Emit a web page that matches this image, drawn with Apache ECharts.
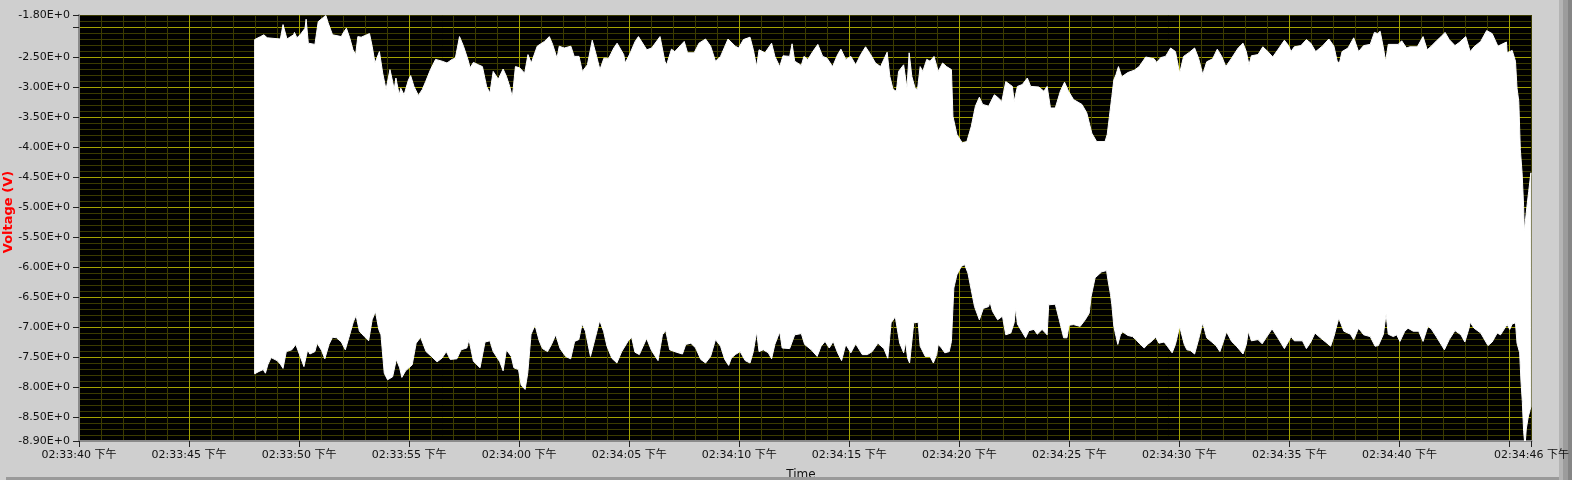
<!DOCTYPE html>
<html><head><meta charset="utf-8">
<script src="https://cdn.jsdelivr.net/npm/echarts@6/dist/echarts.min.js"></script>
<style>html,body{margin:0;padding:0;background:#cfcfcf;}#c{width:1572px;height:480px;}</style>
</head><body><div id="c"></div>
<script>
// seconds after 02:33:40 PM
const upperT = [7.98,8.25,8.40,8.55,9.15,9.27,9.45,9.75,9.79,9.90,10.05,10.27,10.32,10.42,10.72,10.87,11.17,11.22,11.32,11.52,11.92,12.00,12.15,12.30,12.45,12.57,12.67,12.82,13.20,13.32,13.45,13.65,13.80,13.95,14.13,14.25,14.32,14.40,14.55,14.62,14.77,14.97,15.07,15.22,15.42,15.60,15.75,15.97,16.20,16.50,16.72,16.95,17.10,17.29,17.47,17.67,17.77,17.92,18.15,18.33,18.52,18.67,18.82,19.05,19.27,19.42,19.57,19.69,19.83,20.02,20.25,20.40,20.55,20.82,21.15,21.37,21.52,21.72,21.82,22.05,22.35,22.50,22.72,22.87,23.10,23.32,23.52,23.67,23.85,24.07,24.30,24.45,24.75,24.82,25.05,25.27,25.42,25.80,26.02,26.40,26.62,26.70,26.92,27.07,
27.50,27.65,27.95,28.17,28.47,28.70,28.92,29.15,29.49,29.82,29.97,30.19,30.49,30.64,30.79,30.90,31.17,31.47,31.62,31.84,31.99,32.29,32.40,32.52,32.82,32.94,33.12,33.34,33.57,33.79,33.99,34.24,34.47,34.62,34.84,35.07,35.29,35.52,35.74,35.97,36.19,36.42,36.72,36.84,36.99,37.14,37.24,37.47,37.62,37.72,37.84,37.99,38.10,38.22,38.34,38.52,38.67,38.85,39.04,39.24,39.42,39.64,39.71,39.89,40.13,40.34,40.54,40.73,40.91,41.06,41.33,41.59,41.74,41.93,42.11,42.41,42.49,42.64,42.86,43.09,43.24,43.61,43.84,43.99,44.14,44.36,44.59,44.78,44.96,45.19,45.57,45.79,46.02,46.24,46.62,
46.72,46.82,46.93,47.02,47.12,47.23,47.38,47.65,47.95,48.17,48.47,48.85,48.97,49.15,49.37,49.60,49.82,50.01,50.19,50.46,50.69,50.87,51.06,51.24,51.51,51.72,51.92,52.11,52.37,52.67,52.89,53.04,53.16,53.27,53.57,53.79,54.02,54.24,54.47,54.77,54.96,55.07,55.22,55.52,55.77,55.97,56.19,56.49,56.79,57.02,57.17,57.27,57.39,57.66,57.92,58.14,58.37,58.67,58.86,59.01,59.12,59.27,59.37,59.49,59.94,60.10,60.32,60.47,60.81,61.07,61.26,61.44,61.71,61.89,62.07,62.26,62.52,62.71,63.01,63.21,63.39,63.69,63.96,64.21,64.47,64.86,64.89,65.12,65.27,65.34,65.42,65.49,65.57,65.64,65.67,65.79,65.87,65.97];
const upperV = [-2.21,-2.16,-2.13,-2.18,-2.20,-1.96,-2.20,-2.13,-2.09,-2.18,-2.13,-2.02,-1.87,-2.27,-2.29,-1.91,-1.82,-1.81,-1.93,-2.13,-2.16,-2.10,-2.02,-2.18,-2.38,-2.46,-2.16,-2.17,-2.11,-2.32,-2.60,-2.41,-2.77,-3.04,-2.71,-2.91,-3.04,-2.85,-3.13,-3.02,-3.13,-2.88,-2.81,-2.99,-3.14,-3.04,-2.91,-2.71,-2.54,-2.57,-2.60,-2.54,-2.52,-2.16,-2.32,-2.54,-2.68,-2.59,-2.63,-2.66,-2.99,-3.10,-2.74,-2.87,-2.70,-2.82,-2.99,-3.17,-2.66,-2.68,-2.77,-2.46,-2.60,-2.32,-2.24,-2.16,-2.29,-2.52,-2.32,-2.35,-2.32,-2.49,-2.49,-2.74,-2.63,-2.22,-2.49,-2.71,-2.52,-2.52,-2.35,-2.27,-2.46,-2.60,-2.43,-2.24,-2.16,-2.38,-2.35,-2.16,-2.57,-2.63,-2.37,-2.41,
-2.24,-2.43,-2.43,-2.27,-2.20,-2.32,-2.57,-2.49,-2.20,-2.32,-2.35,-2.21,-2.17,-2.38,-2.66,-2.38,-2.43,-2.27,-2.49,-2.66,-2.48,-2.49,-2.28,-2.57,-2.64,-2.49,-2.54,-2.41,-2.29,-2.49,-2.52,-2.66,-2.46,-2.37,-2.54,-2.49,-2.63,-2.46,-2.33,-2.46,-2.60,-2.66,-2.42,-2.82,-3.04,-3.07,-2.74,-2.63,-3.02,-2.43,-2.82,-3.02,-3.04,-2.66,-2.74,-2.54,-2.57,-2.49,-2.74,-2.60,-2.66,-2.71,-3.49,-3.79,-3.93,-3.91,-3.66,-3.32,-3.17,-3.29,-3.32,-3.13,-3.17,-3.24,-2.91,-2.99,-3.24,-2.99,-2.96,-2.85,-2.99,-3.00,-3.07,-2.99,-3.35,-3.35,-3.07,-2.92,-3.07,-3.21,-3.29,-3.43,-3.77,-3.91,-3.91,
-3.79,-3.49,-3.16,-2.88,-2.79,-2.66,-2.83,-2.76,-2.72,-2.66,-2.50,-2.53,-2.59,-2.51,-2.49,-2.35,-2.41,-2.77,-2.49,-2.42,-2.35,-2.52,-2.79,-2.58,-2.53,-2.37,-2.49,-2.66,-2.52,-2.35,-2.27,-2.41,-2.63,-2.48,-2.46,-2.33,-2.41,-2.50,-2.38,-2.22,-2.31,-2.41,-2.33,-2.31,-2.21,-2.27,-2.41,-2.32,-2.20,-2.32,-2.57,-2.60,-2.41,-2.35,-2.18,-2.41,-2.31,-2.29,-2.09,-2.11,-2.07,-2.35,-2.57,-2.29,-2.29,-2.23,-2.35,-2.33,-2.33,-2.16,-2.38,-2.32,-2.22,-2.16,-2.09,-2.21,-2.31,-2.26,-2.16,-2.41,-2.33,-2.24,-2.06,-2.11,-2.32,-2.25,-2.43,-2.39,-2.57,-3.02,-3.24,-4.04,-4.43,-4.99,-5.41,-4.99,-4.74,-4.43];
const lowerT = [7.98,8.18,8.37,8.47,8.58,8.73,9.00,9.15,9.27,9.42,9.67,9.85,10.02,10.22,10.39,10.49,10.72,10.82,11.02,11.17,11.36,11.52,11.70,11.92,12.10,12.30,12.47,12.59,12.74,12.97,13.16,13.32,13.47,13.62,13.72,13.87,14.02,14.25,14.42,14.57,14.67,14.84,15.14,15.32,15.52,15.77,16.01,16.27,16.49,16.69,16.87,17.17,17.36,17.62,17.72,17.92,18.22,18.45,18.67,18.82,19.12,19.27,19.42,19.64,19.76,19.97,20.09,20.27,20.39,20.54,20.72,20.91,21.06,21.29,21.47,21.66,21.86,22.11,22.34,22.52,22.71,22.86,23.01,23.24,23.46,23.66,23.84,23.99,24.21,24.44,24.66,24.96,25.11,25.26,25.46,25.79,26.01,26.31,26.51,26.66,26.84,27.14,
27.42,27.57,27.80,28.02,28.25,28.47,28.70,28.92,29.15,29.34,29.52,29.64,29.82,30.04,30.27,30.49,30.64,30.79,30.90,31.09,31.32,31.47,31.62,31.84,31.95,32.29,32.52,32.82,32.97,33.27,33.54,33.72,33.90,34.09,34.27,34.47,34.65,34.84,35.07,35.29,35.59,35.82,36.04,36.30,36.57,36.75,36.90,37.09,37.29,37.47,37.56,37.65,37.74,37.93,38.13,38.22,38.45,38.67,38.82,38.97,39.04,39.19,39.34,39.54,39.64,39.75,39.89,40.09,40.24,40.39,40.54,40.69,40.91,41.09,41.33,41.39,41.51,41.74,41.96,42.04,42.11,42.34,42.49,42.56,42.64,42.83,43.01,43.16,43.39,43.54,43.76,43.99,44.06,44.36,44.54,44.74,44.89,44.99,45.19,45.49,45.72,45.90,45.99,46.17,46.47,46.69,
46.75,46.87,46.93,47.02,47.12,47.20,47.32,47.42,47.65,47.87,48.02,48.17,48.40,48.55,48.70,48.92,49.07,49.30,49.45,49.67,49.82,50.01,50.22,50.34,50.49,50.69,50.87,51.06,51.24,51.47,51.66,51.84,51.99,52.14,52.37,52.59,52.89,53.04,53.13,53.27,53.57,53.76,53.94,54.21,54.47,54.77,54.96,55.07,55.22,55.59,55.77,55.97,56.16,56.34,56.64,56.87,57.02,57.24,57.47,57.77,57.92,58.14,58.37,58.67,58.89,59.04,59.27,59.39,59.49,59.72,59.87,60.02,60.24,60.39,60.62,60.87,61.07,61.29,61.44,61.67,62.04,62.26,62.52,62.79,62.97,63.16,63.21,63.39,63.69,64.02,64.21,64.44,64.59,64.89,65.01,65.12,65.27,65.34,65.46,65.52,65.58,65.64,65.68,65.72,65.76,65.85,65.97];
const lowerV = [-7.78,-7.74,-7.71,-7.77,-7.63,-7.51,-7.56,-7.62,-7.69,-7.41,-7.38,-7.29,-7.46,-7.66,-7.38,-7.45,-7.41,-7.27,-7.39,-7.53,-7.29,-7.17,-7.18,-7.25,-7.38,-7.13,-6.91,-6.81,-7.07,-7.16,-7.23,-6.88,-6.74,-7.04,-7.13,-7.77,-7.88,-7.83,-7.54,-7.68,-7.84,-7.73,-7.63,-7.27,-7.17,-7.41,-7.49,-7.58,-7.52,-7.41,-7.54,-7.53,-7.38,-7.35,-7.21,-7.57,-7.68,-7.25,-7.23,-7.41,-7.58,-7.73,-7.38,-7.49,-7.68,-7.71,-7.97,-8.04,-7.77,-7.12,-6.97,-7.23,-7.36,-7.41,-7.29,-7.13,-7.36,-7.49,-7.53,-7.24,-7.21,-6.95,-7.07,-7.49,-7.18,-6.89,-7.08,-7.32,-7.52,-7.60,-7.41,-7.23,-7.17,-7.42,-7.46,-7.19,-7.39,-7.56,-7.13,-7.06,-7.38,-7.42,
-7.45,-7.29,-7.27,-7.35,-7.54,-7.60,-7.49,-7.21,-7.32,-7.54,-7.64,-7.52,-7.46,-7.41,-7.56,-7.60,-7.41,-7.08,-7.41,-7.38,-7.43,-7.53,-7.29,-7.08,-7.35,-7.36,-7.13,-7.11,-7.29,-7.38,-7.49,-7.32,-7.24,-7.35,-7.24,-7.43,-7.56,-7.29,-7.43,-7.28,-7.46,-7.46,-7.41,-7.27,-7.36,-7.52,-6.93,-6.83,-7.27,-7.43,-7.25,-7.52,-7.60,-6.93,-6.92,-7.32,-7.49,-7.49,-7.60,-7.46,-7.29,-7.35,-7.43,-7.41,-7.24,-6.35,-6.13,-5.99,-5.96,-6.10,-6.38,-6.66,-6.88,-6.69,-6.66,-6.58,-6.74,-6.88,-6.82,-6.99,-7.13,-7.10,-6.93,-6.68,-6.95,-7.07,-7.18,-7.06,-7.04,-7.12,-7.04,-7.13,-6.63,-6.62,-6.88,-7.18,-7.18,-6.97,-6.96,-6.99,-6.88,-6.77,-6.49,-6.18,-6.08,-6.06,
-6.21,-6.46,-6.63,-6.99,-7.16,-7.29,-7.13,-7.08,-7.14,-7.16,-7.21,-7.27,-7.35,-7.29,-7.25,-7.17,-7.27,-7.25,-7.32,-7.43,-7.29,-6.99,-7.29,-7.38,-7.39,-7.45,-7.21,-6.93,-7.18,-7.25,-7.31,-7.41,-7.25,-7.08,-7.24,-7.32,-7.45,-7.29,-7.07,-7.23,-7.21,-7.28,-7.18,-7.03,-7.18,-7.36,-7.24,-7.16,-7.23,-7.23,-7.36,-7.25,-7.10,-7.16,-7.25,-7.32,-7.16,-6.85,-7.07,-7.12,-7.21,-7.02,-7.13,-7.16,-7.32,-7.31,-7.12,-6.78,-7.12,-7.16,-7.13,-7.24,-7.07,-7.02,-7.07,-7.07,-7.24,-6.99,-7.03,-7.16,-7.38,-7.21,-7.06,-7.13,-7.25,-7.02,-6.92,-7.02,-7.10,-7.31,-7.25,-7.10,-7.13,-6.96,-7.04,-6.95,-6.93,-7.27,-7.43,-7.91,-8.24,-8.74,-8.90,-8.90,-8.70,-8.50,-8.33];

const yLabelValues = [-8.9,-8.5,-8.0,-7.5,-7.0,-6.5,-6.0,-5.5,-5.0,-4.5,-4.0,-3.5,-3.0,-2.5,-1.8];
const yTickValues = [-8.9,-8.5,-8.0,-7.5,-7.0,-6.5,-6.0,-5.5,-5.0,-4.5,-4.0,-3.5,-3.0,-2.5,-2.0,-1.8];
const xLabelValues = [0,5,10,15,20,25,30,35,40,45,50,55,60,66];
const xTickValues = [0,5,10,15,20,25,30,35,40,45,50,55,60,65,66];
const startClock = {h: 2, m: 33, s: 40, suffix: '下午'};

const MAJOR = '#a3a300', MINOR = '#3b3b00';
const FONT = '"DejaVu Sans", "Noto Sans CJK SC", sans-serif';
const X_MIN = 0, X_MAX = 66, Y_MIN = -8.9, Y_MAX = -1.8;

function pad(n){ return (n < 10 ? '0' : '') + n; }
function fmtTime(v){
  let s = startClock.h*3600 + startClock.m*60 + startClock.s + Math.round(v);
  const h = Math.floor(s/3600); s -= h*3600;
  const m = Math.floor(s/60); s -= m*60;
  return pad(h) + ':' + pad(m) + ':' + pad(s) + ' ' + startClock.suffix;
}

const chart = echarts.init(document.getElementById('c'), null, {renderer: 'canvas'});
chart.setOption({
  backgroundColor: '#cfcfcf',
  animation: false,
  grid: {left: 79, right: 25, top: 15, bottom: 39, show: true, backgroundColor: '#000', borderWidth: 0},
  xAxis: [{
    type: 'value', min: X_MIN, max: X_MAX, interval: 1, position: 'bottom',
    axisLine: {show: false}, axisTick: {show: false}, axisLabel: {show: false},
    splitLine: {show: true, lineStyle: {color: [MAJOR, MINOR, MINOR, MINOR, MINOR], width: 1}}
  }, {
    type: 'value', min: X_MIN, max: X_MAX, position: 'bottom',
    axisLine: {show: true, onZero: false, lineStyle: {color: '#8a8a8a', width: 2}},
    axisTick: {show: true, length: 6, customValues: xTickValues, lineStyle: {color: '#222', width: 1}},
    axisLabel: {
      show: true, margin: 9, color: '#111', fontSize: 11, fontFamily: FONT,
      customValues: xLabelValues, formatter: v => fmtTime(v), hideOverlap: false
    },
    splitLine: {show: false}
  }],
  yAxis: [{
    type: 'value', min: Y_MIN, max: Y_MAX, interval: 0.1, position: 'left',
    axisLine: {show: false}, axisTick: {show: false}, axisLabel: {show: false},
    splitLine: {show: true, lineStyle: {color: [MINOR, MINOR, MINOR, MINOR, MAJOR], width: 1}}
  }, {
    type: 'value', min: Y_MIN, max: Y_MAX, position: 'left', offset: 0,
    axisLine: {show: true, onZero: false, lineStyle: {color: '#8a8a8a', width: 2}},
    axisTick: {show: true, length: 6, customValues: yTickValues, lineStyle: {color: '#222', width: 1}},
    axisLabel: {
      show: true, margin: 9, color: '#111', fontSize: 11, fontFamily: FONT,
      customValues: yLabelValues, formatter: v => v.toFixed(2) + 'E+0'
    },
    splitLine: {show: false}
  }],
  graphic: [
    {type: 'rect', z: -10, shape: {x: 1559, y: 0, width: 4, height: 480}, style: {fill: '#b4b4b4'}},
    {type: 'rect', z: -10, shape: {x: 1563, y: 0, width: 5, height: 480}, style: {fill: '#9c9c9c'}},
    {type: 'rect', z: -10, shape: {x: 1568, y: 0, width: 4, height: 480}, style: {fill: '#858585'}},
    {type: 'text', z: 50, x: 2, y: 212, rotation: Math.PI/2,
      style: {text: 'Voltage (V)', fill: '#ff0000', font: 'bold 13px "DejaVu Sans", sans-serif', align: 'center', verticalAlign: 'top'}},
    {type: 'text', z: 50, x: 801, y: 469,
      style: {text: 'Time', fill: '#111', font: '12px "DejaVu Sans", sans-serif', align: 'center', verticalAlign: 'top'}},
    {type: 'rect', z: 100, shape: {x: 6, y: 477, width: 1553, height: 3}, style: {fill: '#9a9a9a'}}
  ],
  series: [{
    type: 'custom',
    coordinateSystem: 'cartesian2d',
    xAxisIndex: 0, yAxisIndex: 0,
    clip: true,
    silent: true,
    data: [[upperT[0], upperV[0]]],
    renderItem: function(params, api){
      const pts = [];
      for (let i = 0; i < upperT.length; i++) pts.push(api.coord([upperT[i], upperV[i]]));
      for (let i = lowerT.length - 1; i >= 0; i--) pts.push(api.coord([lowerT[i], lowerV[i]]));
      return {type: 'polygon', shape: {points: pts}, style: {fill: '#ffffff', stroke: '#ffffff', lineWidth: 1}};
    }
  }]
});
</script>
</body></html>
